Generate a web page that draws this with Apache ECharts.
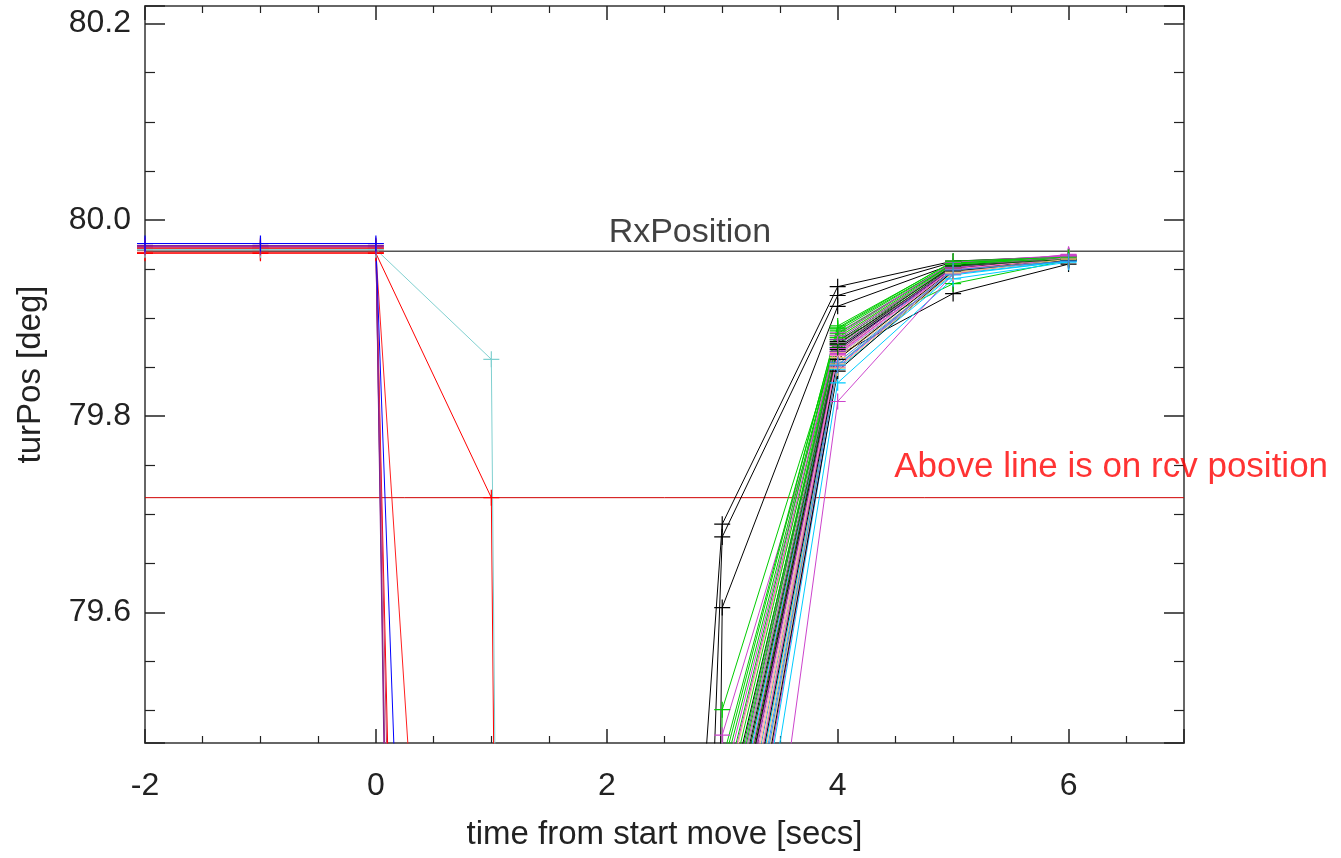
<!DOCTYPE html>
<html><head><meta charset="utf-8">
<script src="https://cdn.jsdelivr.net/npm/echarts@6/dist/echarts.min.js"></script>
<style>html,body{margin:0;padding:0;background:#fff}#c{width:1341px;height:858px}</style>
</head><body><div id="c"></div>
<script>
// ---- data ----
const xTickLabels = ['-2', '0', '2', '4', '6'];
const rxPosition = 79.968;   // black horizontal reference line
const rcvLine = 79.717;      // red horizontal line

// series that leave the Rx position (times -2,-1,0,1,2 s)
const departTimes = [-2, -1, 0, 1, 2];
const departColors = ['#ff2020', '#ff0000', '#ff0000', '#909090', '#80d0d0', '#cc3366', '#a0209a', '#80208a', '#0000ff'];
const departM2 = [79.967, 79.966, 79.971, 79.969, 79.970, 79.972, 79.973, 79.974, 79.976];
const departM1 = [79.967, 79.966, 79.971, 79.969, 79.970, 79.972, 79.973, 79.974, 79.976];
const depart0  = [79.967, 79.966, 79.971, 79.969, 79.970, 79.972, 79.973, 79.974, 79.976];
const depart1  = [78.16, 79.717, 75.00, 73.40, 79.858, 74.50, 73.10, 72.60, 76.70];
const depart2  = [72.50, 67.20, 68.30, 66.40, 66.90, 67.00, 65.80, 65.20, 70.10];

// series that arrive at the Rx position (times 2..6 s)
const arriveTimes = [2, 3, 4, 5, 6];
const arriveColors = ['#000000','#000000','#000000','#000000','#00cc00','#cc44cc','#00cc00','#cc44cc','#f2c77c','#000000',
  '#00ccff','#00cc00','#7f3f9f','#cc44cc','#f2c77c','#3a8ee6','#00cc00','#000000','#cc44cc','#006400',
  '#f2c77c','#00ccff','#00cc00','#cc44cc','#000000','#909090','#7f3f9f','#f2c77c','#3a8ee6','#00cc00',
  '#cc44cc','#000000','#00ccff','#f2c77c','#cc44cc','#00cc00','#00ccff','#cc44cc','#ff88cc','#006400',
  '#000000','#f2c77c','#cc44cc','#00cc00','#3a8ee6'];
const arrive2 = [78.03,76.45,70.10,71.20,69.80,70.40,72.10,71.60,72.30,71.90,
  72.60,71.40,72.00,72.80,73.10,72.50,71.70,72.20,72.90,72.40,
  73.30,73.60,71.50,73.00,72.70,72.60,73.20,73.50,73.80,72.00,
  73.40,73.70,74.00,73.90,74.10,72.30,74.40,75.00,73.60,73.10,
  74.20,74.00,72.10,71.80,74.30];
const arrive3 = [79.690,79.677,79.605,79.300,79.501,79.475,79.440,79.421,79.400,79.378,
  79.325,79.409,79.364,79.353,79.312,79.264,79.388,79.338,79.318,79.332,
  79.274,79.231,79.430,79.297,79.303,79.345,79.288,79.255,79.208,79.370,
  79.244,79.237,79.155,79.187,79.166,79.357,79.100,78.950,79.281,79.310,
  79.181,79.223,79.405,79.449,79.199];
const arrive4 = [79.932,79.923,79.912,79.862,79.878,79.866,79.892,79.885,79.880,79.874,
  79.870,79.889,79.878,79.872,79.865,79.862,79.884,79.876,79.869,79.873,
  79.858,79.852,79.887,79.864,79.868,79.875,79.866,79.860,79.855,79.882,
  79.863,79.858,79.848,79.853,79.850,79.880,79.834,79.815,79.862,79.870,
  79.846,79.849,79.882,79.890,79.852];
const arrive5 = [79.958,79.957,79.955,79.925,79.935,79.952,79.957,79.955,79.953,79.950,
  79.948,79.956,79.954,79.951,79.949,79.947,79.955,79.953,79.952,79.954,
  79.946,79.945,79.956,79.950,79.951,79.955,79.952,79.948,79.947,79.956,
  79.951,79.950,79.944,79.947,79.949,79.955,79.940,79.945,79.950,79.953,
  79.948,79.946,79.957,79.958,79.949];
const arrive6 = [79.963,79.962,79.961,79.955,79.959,79.965,79.962,79.963,79.962,79.960,
  79.958,79.961,79.963,79.962,79.960,79.959,79.962,79.961,79.963,79.960,
  79.960,79.958,79.962,79.964,79.961,79.962,79.963,79.961,79.959,79.962,
  79.964,79.960,79.958,79.961,79.963,79.961,79.957,79.962,79.961,79.960,
  79.959,79.960,79.964,79.962,79.958];

// text anchors (data coordinates)
const rxLabelAt = [2.72, rxPosition];
const rcvLabelAt = [4.49, 79.748];

// ---- chart ----
const FONT = '"Liberation Sans", Arial, Helvetica, sans-serif';
const TXT = '#222';
const PLUS = 'path://M8,0L8,16M0,8L16,8';

function mkLine(times, values, color) {
  return {
    type: 'line', data: times.map((t, i) => [t, values[i]]),
    symbol: PLUS, symbolSize: 16, showSymbol: true, showAllSymbol: true,
    lineStyle: { color: color, width: 1 },
    itemStyle: { color: color, borderColor: color, borderWidth: 1.2 },
    clip: true, silent: true, animation: false, emphasis: { disabled: true }
  };
}

const series = [];
series.push({ type: 'line', data: [[-2, rxPosition], [7, rxPosition]], symbol: 'none', lineStyle: { color: '#555', width: 1.5 }, silent: true, z: 1 });
series.push({ type: 'line', data: [[-2, rcvLine], [7, rcvLine]], symbol: 'none', lineStyle: { color: '#d00000', width: 1 }, silent: true, z: 1 });
for (let i = 0; i < arriveColors.length; i++) {
  series.push(mkLine(arriveTimes, [arrive2[i], arrive3[i], arrive4[i], arrive5[i], arrive6[i]], arriveColors[i]));
}
for (let i = 0; i < departColors.length; i++) {
  series.push(mkLine(departTimes, [departM2[i], departM1[i], depart0[i], depart1[i], depart2[i]], departColors[i]));
}
series.push({ type: 'scatter', data: [rxLabelAt], symbolSize: 0, silent: true,
  label: { show: true, position: 'top', distance: 2, formatter: 'RxPosition', fontSize: 34, color: '#111', fontFamily: FONT } });
series.push({ type: 'scatter', data: [rcvLabelAt], symbolSize: 0, silent: true,
  label: { show: true, position: 'right', distance: 0, formatter: 'Above line is on rcv position', fontSize: 35, color: '#ff0000', fontFamily: FONT } });

const axisLineStyle = { color: '#666', width: 2 };
function xAx(pos, showLabel) {
  return {
    type: 'value', position: pos, min: -2, max: 7, interval: 2,
    axisLine: { show: true, onZero: false, lineStyle: axisLineStyle },
    axisTick: { show: true, inside: true, length: 14, lineStyle: { color: '#222', width: 1.5 } },
    minorTick: { show: true, splitNumber: 4, length: 7, lineStyle: { color: '#222', width: 1.2 } },
    splitLine: { show: false }, minorSplitLine: { show: false },
    axisLabel: { show: showLabel, margin: 27, fontSize: 32, color: TXT, fontFamily: FONT, showMaxLabel: false,
      formatter: v => { const k = [-2, 0, 2, 4, 6].indexOf(v); return k >= 0 ? xTickLabels[k] : ''; } },
    name: showLabel ? 'time from start move [secs]' : '', nameLocation: 'middle', nameGap: 75,
    nameTextStyle: { fontSize: 33, color: TXT, fontFamily: FONT }
  };
}
function yAx(pos, showLabel) {
  return {
    type: 'value', position: pos, min: 79.467, max: 80.218, splitNumber: 4,
    axisLine: { show: true, onZero: false, lineStyle: axisLineStyle },
    axisTick: { show: true, inside: true, length: 20, lineStyle: { color: '#222', width: 1.5 } },
    minorTick: { show: true, splitNumber: 4, length: 10, lineStyle: { color: '#222', width: 1.2 } },
    splitLine: { show: false }, minorSplitLine: { show: false },
    axisLabel: { show: showLabel, margin: 14, fontSize: 32, color: TXT, fontFamily: FONT, showMinLabel: false, showMaxLabel: false,
      formatter: v => v.toFixed(1) },
    name: showLabel ? 'turPos [deg]' : '', nameLocation: 'middle', nameGap: 98, nameRotate: 90,
    nameTextStyle: { fontSize: 33, color: TXT, fontFamily: FONT }
  };
}

const chart = echarts.init(document.getElementById('c'), null, { renderer: 'canvas' });
chart.setOption({
  animation: false,
  backgroundColor: '#ffffff',
  grid: { left: 145, right: 157, top: 6, bottom: 115, containLabel: false },
  xAxis: [xAx('bottom', true), xAx('top', false)],
  yAxis: [yAx('left', true), yAx('right', false)],
  series: series
});
</script></body></html>
